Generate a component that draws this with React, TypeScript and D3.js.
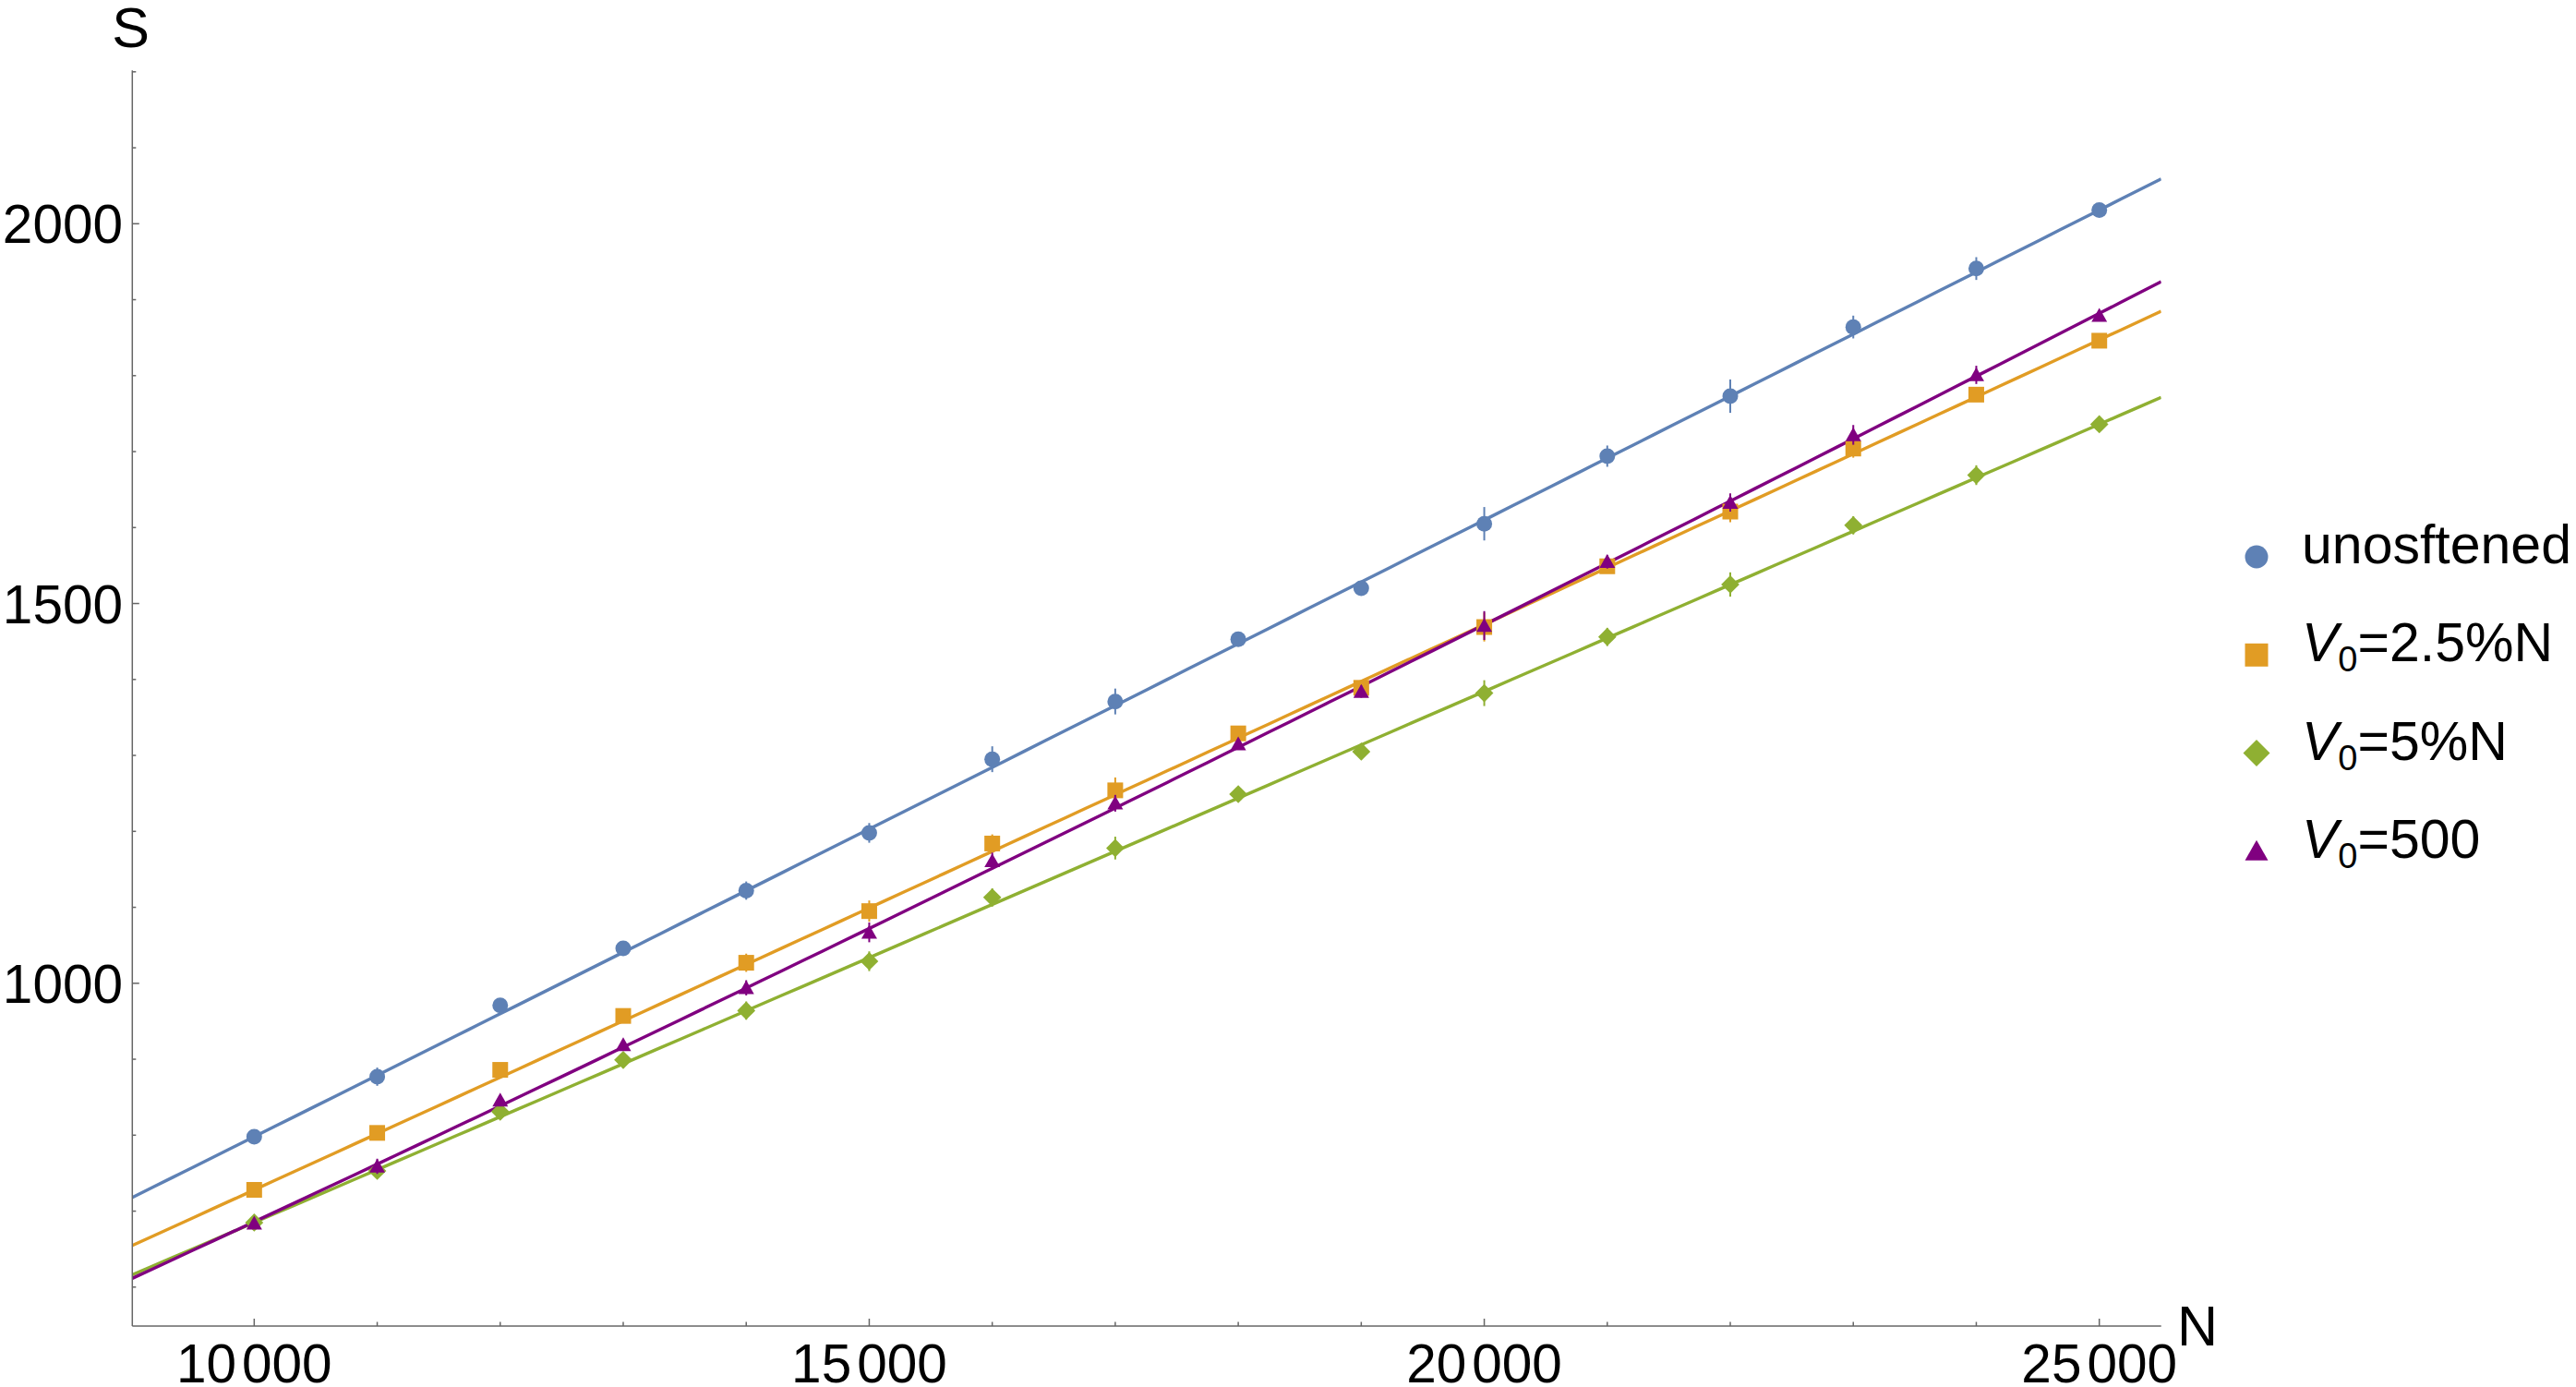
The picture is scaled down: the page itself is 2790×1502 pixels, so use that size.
import React from "react";
import * as d3 from "d3";

// ---- data ----
const nValues = [10000, 11000, 12000, 13000, 14000, 15000, 16000, 17000, 18000, 19000, 20000, 21000, 22000, 23000, 24000, 25000];

const unsoftened = [798, 877, 971, 1046, 1122, 1198, 1295, 1371, 1453, 1520, 1605, 1694, 1773, 1864, 1941, 2018];
const unsoftenedErr = [5, 12, 5, 5, 12, 13, 17, 17, 5, 5, 22, 14, 22, 15, 15, 5];

const v25 = [728, 803, 886, 957, 1027, 1095, 1184, 1254, 1329, 1389, 1469, 1549, 1621, 1704, 1775, 1846];
const v25Err = [5, 5, 5, 5, 12, 14, 12, 17, 5, 8, 19, 5, 14, 12, 9, 5];

const v5 = [685, 753, 831, 899, 964, 1029, 1113, 1178, 1249, 1305, 1382, 1456, 1525, 1603, 1669, 1736];
const v5Err = [8, 5, 5, 5, 12, 13, 12, 15, 5, 5, 17, 12, 16, 12, 13, 5];

const v500 = [684, 759, 846, 919, 994, 1067, 1161, 1237, 1315, 1384, 1471, 1555, 1633, 1722, 1801, 1879];
const v500Err = [5, 10, 5, 5, 10, 13, 11, 11, 5, 8, 19, 9, 12, 13, 12, 5];

// power-law fit curves (S = a N^b): fitted value read at N = 10000 and N = 25000
const fitAnchorN = [10000, 25000];
const fitAt10k = [798, 728, 685, 686];
const fitAt25k = [2018, 1847, 1736, 1882];

const seriesNames = ["unosftened", "V0=2.5%N", "V0=5%N", "V0=500"];
const seriesColors = ["#5E81B5", "#E19C24", "#8FB032", "#800080"];
const seriesShapes = ["circle", "square", "diamond", "triangle"];

const xMajorTicks = [10000, 15000, 20000, 25000];
const xMinorTicks = [10000, 11000, 12000, 13000, 14000, 15000, 16000, 17000, 18000, 19000, 20000, 21000, 22000, 23000, 24000, 25000];
const yMajorTicks = [1000, 1500, 2000];
const yMinorTicks = [600, 700, 800, 900, 1000, 1100, 1200, 1300, 1400, 1500, 1600, 1700, 1800, 1900, 2000, 2100, 2200];

const xDomain = [9009, 25503];
const yDomain = [548.7, 2201.8];

const W = 2790;
const H = 1502;
const FONT = "'Liberation Sans', Arial, Helvetica, sans-serif";
const AXIS = "#666666";

function Marker({ shape, cx, cy, s, color }: { shape: string; cx: number; cy: number; s: number; color: string }) {
  if (shape === "circle") return <circle cx={cx} cy={cy} r={s * 0.5} fill={color} />;
  if (shape === "square") return <rect x={cx - s / 2} y={cy - s / 2} width={s} height={s} fill={color} />;
  if (shape === "diamond") {
    const h = s * 0.58;
    return <polygon points={`${cx},${cy - h} ${cx + h},${cy} ${cx},${cy + h} ${cx - h},${cy}`} fill={color} />;
  }
  const w = s * 1.0;
  const hh = s * 0.88;
  return <polygon points={`${cx},${cy - hh * 0.55} ${cx + w / 2},${cy + hh * 0.45} ${cx - w / 2},${cy + hh * 0.45}`} fill={color} />;
}

function groupLabel(v: number) {
  const s = String(v);
  return [s.slice(0, s.length - 3), s.slice(s.length - 3)];
}

export default function App() {
  const x = d3.scaleLinear().domain(xDomain).range([143.3, 2340.7]);
  const y = d3.scaleLinear().domain(yDomain).range([1436, 76.3]);
  const x0 = x.range()[0];
  const y0 = y.range()[0];

  const allValues = [unsoftened, v25, v5, v500];
  const allErr = [unsoftenedErr, v25Err, v5Err, v500Err];

  const samples = d3.range(0, 101).map((i) => xDomain[0] + ((xDomain[1] - xDomain[0]) * i) / 100);

  return (
    <svg width={W} height={H} style={{ position: "absolute", left: 0, top: 0, background: "#fff" }} fontFamily={FONT}>
      <rect width={W} height={H} fill="#fff" />
      <defs>
        <clipPath id="plotclip">
          <rect x={x0} y={y.range()[1]} width={x.range()[1] - x0} height={y0 - y.range()[1]} />
        </clipPath>
      </defs>
      {/* fit curves */}
      <g clipPath="url(#plotclip)">
        {seriesNames.map((_, si) => {
          const b = Math.log(fitAt25k[si] / fitAt10k[si]) / Math.log(fitAnchorN[1] / fitAnchorN[0]);
          const f = (n: number) => fitAt10k[si] * Math.pow(n / fitAnchorN[0], b);
          const path = d3.line<number>().x((d) => x(d)).y((d) => y(f(d)))(samples);
          return <path key={si} d={path!} stroke={seriesColors[si]} strokeWidth={3.4} fill="none" />;
        })}
      </g>
      {/* error bars + points */}
      {allValues.map((vals, si) => (
        <g key={si}>
          {vals.map((v, i) => (
            <line key={"e" + i} x1={x(nValues[i])} x2={x(nValues[i])} y1={y(v - allErr[si][i])} y2={y(v + allErr[si][i])} stroke={seriesColors[si]} strokeWidth={2} />
          ))}
          {vals.map((v, i) => (
            <Marker key={"m" + i} shape={seriesShapes[si]} cx={x(nValues[i])} cy={y(v)} s={17} color={seriesColors[si]} />
          ))}
        </g>
      ))}

      {/* axes */}
      <line x1={x0} x2={x.range()[1]} y1={y0} y2={y0} stroke={AXIS} strokeWidth={1.5} />
      <line x1={x0} x2={x0} y1={y0} y2={y.range()[1]} stroke={AXIS} strokeWidth={1.5} />
      {xMinorTicks.map((t) => (
        <line key={"xm" + t} x1={x(t)} x2={x(t)} y1={y0} y2={y0 - (xMajorTicks.includes(t) ? 8 : 4.5)} stroke={AXIS} strokeWidth={1.5} />
      ))}
      {yMinorTicks.map((t) => (
        <line key={"ym" + t} x1={x0} x2={x0 + (yMajorTicks.includes(t) ? 7.5 : 4)} y1={y(t)} y2={y(t)} stroke={AXIS} strokeWidth={1.5} />
      ))}
      {xMajorTicks.map((t) => {
        const [a, b] = groupLabel(t);
        return (
          <text key={"xl" + t} x={x(t)} y={1497} fontSize={58.5} textAnchor="middle" fill="#000">
            <tspan>{a}</tspan>
            <tspan dx={6}>{b}</tspan>
          </text>
        );
      })}
      {yMajorTicks.map((t) => (
        <text key={"yl" + t} x={133} y={y(t) + 21} fontSize={58.5} textAnchor="end" fill="#000">
          {t}
        </text>
      ))}
      <text x={141.5} y={51} fontSize={61} textAnchor="middle" fill="#000">S</text>
      <text x={2358} y={1457} fontSize={61} fill="#000">N</text>

      {/* legend */}
      {seriesNames.map((name, i) => {
        const cy = 603 + i * 106.3;
        const tx = 2493;
        const by = cy + 7;
        return (
          <g key={"lg" + i}>
            <Marker shape={seriesShapes[i]} cx={2444} cy={cy} s={25} color={seriesColors[i]} />
            {i === 0 ? (
              <text x={tx} y={by} fontSize={59} fill="#000">{name}</text>
            ) : (
              <text x={tx} y={by} fontSize={59} fill="#000">
                <tspan fontStyle="italic">V</tspan>
                <tspan fontSize={38} dy={11}>0</tspan>
                <tspan dy={-11}>{name.slice(2)}</tspan>
              </text>
            )}
          </g>
        );
      })}
    </svg>
  );
}
